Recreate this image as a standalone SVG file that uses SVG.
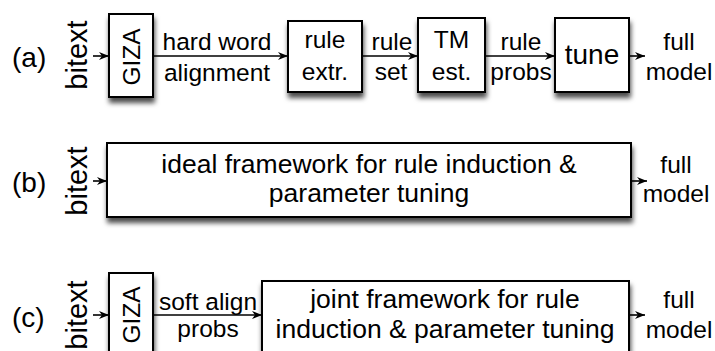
<svg xmlns="http://www.w3.org/2000/svg" width="715" height="351" viewBox="0 0 715 351">
  <defs>
    <filter id="shadow" x="-20%" y="-20%" width="140%" height="150%">
      <feDropShadow dx="1" dy="5" stdDeviation="2.6" flood-color="#000" flood-opacity="0.7"/>
    </filter>
    <marker id="arrow" markerUnits="userSpaceOnUse" markerWidth="12" markerHeight="10" refX="10" refY="4" orient="auto">
      <path d="M0,0 L10,4 L0,8 L3,4 z" fill="#000"/>
    </marker>
  </defs>
  <style>
    text { font-family: "Liberation Sans", Arial, Helvetica, sans-serif; fill: #000; }
    .box { fill: #fff; stroke: #000; stroke-width: 2; filter: url(#shadow); }
    .lbl { font-size: 24.5px; text-anchor: middle; }
    .big { font-size: 26.5px; text-anchor: middle; }
    .tag { font-size: 28px; }
    .side { font-size: 29px; text-anchor: middle; }
    .edge { stroke: #000; stroke-width: 1.6; fill: none; marker-end: url(#arrow); }
  </style>

  <!-- row labels -->
  <text class="tag" x="12" y="67">(a)</text>
  <text class="tag" x="12" y="192">(b)</text>
  <text class="tag" x="12" y="327">(c)</text>

  <!-- connectors -->
  <g id="connectors">
    <line class="edge" x1="93" y1="56" x2="109" y2="56"/>
    <line class="edge" x1="153" y1="56" x2="288" y2="56"/>
    <line class="edge" x1="362" y1="56" x2="418" y2="56"/>
    <line class="edge" x1="485" y1="56" x2="555" y2="56"/>
    <line class="edge" x1="629" y1="56" x2="645" y2="56"/>

    <line class="edge" x1="93" y1="181" x2="107" y2="181"/>
    <line class="edge" x1="631" y1="181" x2="647" y2="181"/>

    <line class="edge" x1="93" y1="315" x2="109" y2="315"/>
    <line class="edge" x1="153" y1="315" x2="262" y2="315"/>
    <line class="edge" x1="629" y1="315" x2="645" y2="315"/>

    <!-- edge labels -->
    <text class="lbl" x="217" y="50">hard word</text>
    <text class="lbl" x="217" y="81">alignment</text>
    <text class="lbl" x="392" y="50">rule</text>
    <text class="lbl" x="391" y="80">set</text>
    <text class="lbl" x="521" y="50">rule</text>
    <text class="lbl" x="521" y="80">probs</text>
    <text class="lbl" x="208" y="310">soft align</text>
    <text class="lbl" x="208" y="337">probs</text>
  </g>

  <!-- row (a) -->
  <g id="bitext-a">
    <text class="side" transform="translate(87,55) rotate(-90)">bitext</text>
  </g>
  <g id="giza-a">
    <rect class="box" x="109" y="14" width="44" height="83"/>
    <text class="lbl" transform="translate(140,57) rotate(-90)">GIZA</text>
  </g>
  <g id="rule-extr">
    <rect class="box" x="288" y="21" width="74" height="71"/>
    <text class="lbl" x="325" y="48">rule</text>
    <text class="lbl" x="325" y="80">extr.</text>
  </g>
  <g id="tm-est">
    <rect class="box" x="418" y="18" width="67" height="74"/>
    <text class="lbl" x="451.5" y="48">TM</text>
    <text class="lbl" x="451.5" y="80">est.</text>
  </g>
  <g id="tune">
    <rect class="box" x="555" y="18" width="74" height="74"/>
    <text class="lbl" x="592" y="64" style="font-size:28px">tune</text>
  </g>
  <g id="model-a">
    <text class="lbl" x="679" y="50">full</text>
    <text class="lbl" x="679" y="80">model</text>
  </g>

  <!-- row (b) -->
  <g id="bitext-b">
    <text class="side" transform="translate(87,181) rotate(-90)">bitext</text>
  </g>
  <g id="ideal">
    <rect class="box" x="107" y="143" width="524" height="74"/>
    <text class="big" x="369" y="173">ideal framework for rule induction &amp;</text>
    <text class="big" x="369" y="202">parameter tuning</text>
  </g>
  <g id="model-b">
    <text class="lbl" x="676" y="173">full</text>
    <text class="lbl" x="676" y="202">model</text>
  </g>

  <!-- row (c) -->
  <g id="bitext-c">
    <text class="side" transform="translate(87,315) rotate(-90)">bitext</text>
  </g>
  <g id="giza-c">
    <rect class="box" x="109" y="273" width="44" height="84"/>
    <text class="lbl" transform="translate(140,315) rotate(-90)">GIZA</text>
  </g>
  <g id="joint">
    <rect class="box" x="262" y="281" width="367" height="76"/>
    <text class="big" x="445" y="308">joint framework for rule</text>
    <text class="big" x="445" y="338">induction &amp; parameter tuning</text>
  </g>
  <g id="model-c">
    <text class="lbl" x="679" y="308">full</text>
    <text class="lbl" x="679" y="338">model</text>
  </g>
</svg>
